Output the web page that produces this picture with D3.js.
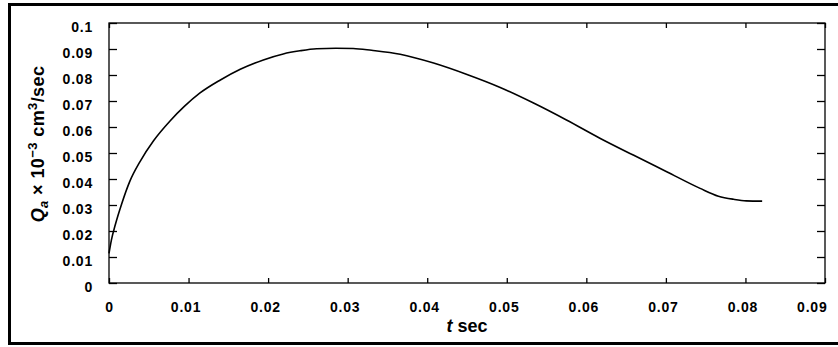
<!DOCTYPE html>
<html>
<head>
<meta charset="utf-8">
<script src="https://cdn.jsdelivr.net/npm/d3@7"></script>
<style>
  html, body { margin: 0; padding: 0; background: #fff; }
  svg { display: block; }
  text { font-family: "Liberation Sans", Arial, sans-serif; font-weight: bold; fill: #000; }
</style>
</head>
<body>
<svg id="chart" width="838" height="347"></svg>
<script>
// ---- data ----
const tValues = [0, 0.0003, 0.0008, 0.0016, 0.0026, 0.0039, 0.0056, 0.0077, 0.0095, 0.0114, 0.0140, 0.0165, 0.0194, 0.0219, 0.0240, 0.0261, 0.0285, 0.0307, 0.0330, 0.0366, 0.0408, 0.0450, 0.0491, 0.0533, 0.0575, 0.0617, 0.0659, 0.0701, 0.0743, 0.0766, 0.0785, 0.0801, 0.0821];
const qValues = [0.0114, 0.0165, 0.0225, 0.0305, 0.0390, 0.0467, 0.0547, 0.0624, 0.0680, 0.0730, 0.0781, 0.0822, 0.0858, 0.0881, 0.0893, 0.0901, 0.0903, 0.0902, 0.0895, 0.0880, 0.0846, 0.0802, 0.0753, 0.0693, 0.0627, 0.0557, 0.0492, 0.0428, 0.0364, 0.0334, 0.0322, 0.0316, 0.0315];
const xTicks = [0, 0.01, 0.02, 0.03, 0.04, 0.05, 0.06, 0.07, 0.08, 0.09];
const yTicks = [0, 0.01, 0.02, 0.03, 0.04, 0.05, 0.06, 0.07, 0.08, 0.09, 0.1];
const xTickLabels = ["0", "0.01", "0.02", "0.03", "0.04", "0.05", "0.06", "0.07", "0.08", "0.09"];
const yTickLabels = ["0", "0.01", "0.02", "0.03", "0.04", "0.05", "0.06", "0.07", "0.08", "0.09", "0.1"];

const svg = d3.select("#chart");
const plot = { left: 109, right: 825, top: 23, bottom: 283 };

// outer frame (right edge runs off the picture)
svg.append("rect")
  .attr("x", 9.5).attr("y", 4.5)
  .attr("width", 840).attr("height", 339)
  .attr("fill", "none").attr("stroke", "#000").attr("stroke-width", 3);

const x = d3.scaleLinear().domain([0, 0.09]).range([plot.left, plot.right]);
const y = d3.scaleLinear().domain([0, 0.1]).range([plot.bottom, plot.top]);

// plot box
svg.append("rect")
  .attr("x", plot.left).attr("y", plot.top)
  .attr("width", plot.right - plot.left).attr("height", plot.bottom - plot.top)
  .attr("fill", "none").attr("stroke", "#000").attr("stroke-width", 1.3);

const xb = svg.append("g").attr("transform", `translate(0,${plot.bottom})`)
  .call(d3.axisBottom(x).tickValues(xTicks).tickSizeInner(-5).tickSizeOuter(0)
    .tickFormat((d, i) => xTickLabels[i]).tickPadding(16));
const xt = svg.append("g").attr("transform", `translate(0,${plot.top})`)
  .call(d3.axisTop(x).tickValues(xTicks).tickSizeInner(-5).tickSizeOuter(0).tickFormat(""));
const yl = svg.append("g").attr("transform", `translate(${plot.left},0)`)
  .call(d3.axisLeft(y).tickValues(yTicks).tickSizeInner(-8).tickSizeOuter(0)
    .tickFormat((d, i) => yTickLabels[i]).tickPadding(16));
const yr = svg.append("g").attr("transform", `translate(${plot.right},0)`)
  .call(d3.axisRight(y).tickValues(yTicks).tickSizeInner(-8).tickSizeOuter(0).tickFormat(""));

[xb, xt, yl, yr].forEach(g => {
  g.select(".domain").remove();
  g.selectAll(".tick line").attr("stroke", "#000").attr("stroke-width", 1.3);
  g.selectAll(".tick text")
    .style("font-family", '"Liberation Sans", Arial, sans-serif')
    .style("font-weight", "bold").style("font-size", "14px")
    .style("letter-spacing", "0.8px").attr("fill", "#000");
});
yl.selectAll(".tick text").attr("dy", "0.6em");
xb.selectAll(".tick text").attr("dy", "0.9em")
  .attr("dx", (d, i) => (i === 0 ? 0 : -3));
// last x label sits inside the picture, right-aligned
xb.selectAll(".tick text").filter((d, i, n) => i === n.length - 1)
  .attr("text-anchor", "end").attr("dx", 2);

// curve
const data = tValues.map((t, i) => ({ t, q: qValues[i] }));
svg.append("path")
  .datum(data)
  .attr("fill", "none").attr("stroke", "#000").attr("stroke-width", 1.6)
  .attr("d", d3.line().x(d => x(d.t)).y(d => y(d.q)).curve(d3.curveMonotoneX));

// x label
const xl = svg.append("text")
  .attr("x", (plot.left + plot.right) / 2).attr("y", 332)
  .attr("text-anchor", "middle").style("font-size", "18px");
xl.append("tspan").style("font-style", "italic").text("t");
xl.append("tspan").text(" sec");

// y label
const ylab = svg.append("text")
  .attr("transform", `translate(44,144) rotate(-90)`)
  .attr("text-anchor", "middle").style("font-size", "18px")
  .style("letter-spacing", "0.4px");
ylab.append("tspan").style("font-style", "italic").text("Q");
ylab.append("tspan").style("font-style", "italic").style("font-size", "13px").attr("dy", "4").text("a");
ylab.append("tspan").attr("dy", "-4").text(" \u00d7 10");
ylab.append("tspan").style("font-size", "13px").attr("dy", "-7").text("\u22123");
ylab.append("tspan").attr("dy", "7").text(" cm");
ylab.append("tspan").style("font-size", "13px").attr("dy", "-7").text("3");
ylab.append("tspan").attr("dy", "7").text("/sec");
</script>
</body>
</html>
